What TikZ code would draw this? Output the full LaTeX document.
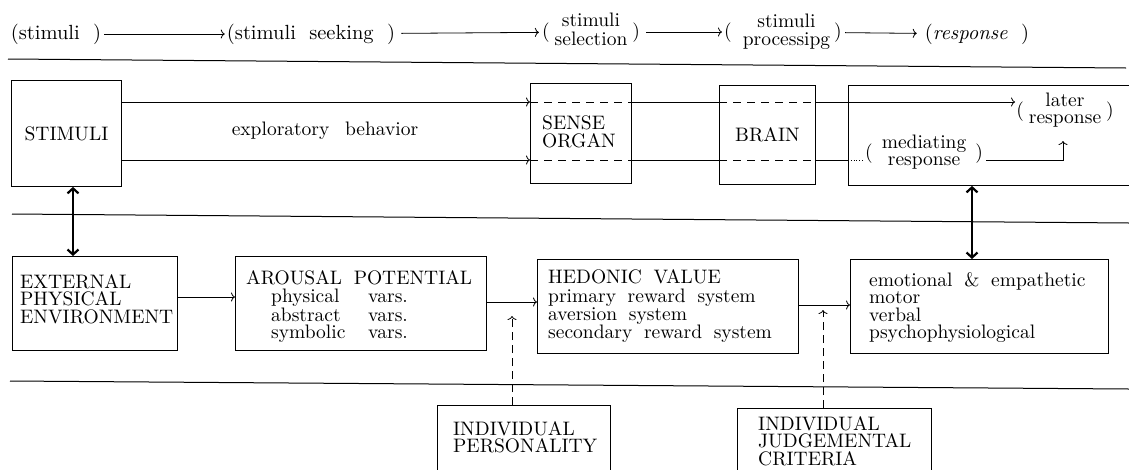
\documentclass[tikz,border=0pt]{standalone}
\usepackage{fontspec}
\setmainfont{lmroman10-regular.otf}[ItalicFont=lmroman10-italic.otf, BoldFont=lmroman10-bold.otf]
\usetikzlibrary{arrows.meta}
\newcommand\fs{\fontsize{19.5}{17.5}\selectfont\spaceskip=0.6em plus 0.1em minus 0.05em\relax}
\newcommand\fst{\fontsize{20.5}{17.5}\selectfont\spaceskip=0.65em plus 0.1em minus 0.05em\relax}
\begin{document}
\begin{tikzpicture}[x=1pt,y=-1pt,
  every node/.style={inner sep=0pt},
  lbl/.style={font=\fs, align=center},
  top/.style={font=\fst, align=center},
  txt/.style={font=\fs, align=left, anchor=north west},
  box/.style={draw, line width=0.9pt, anchor=north west, font=\fs},
  rule/.style={line width=1pt},
  conn/.style={line width=0.8pt, -{To[length=4pt,width=9pt]}},
  dconn/.style={conn, dash pattern=on 8pt off 5pt},
  dline/.style={line width=0.8pt, dash pattern=on 8pt off 6pt},
  pline/.style={line width=0.8pt},
  dbl/.style={line width=2.2pt, {Straight Barb[length=5pt,width=11pt]}-{Straight Barb[length=5pt,width=11pt]}}
]
\clip (0,0) rectangle (1129,469);
\fill[white] (0,0) rectangle (1129,469);

% ---------- top row ----------
\node[top] (t1) at (56,34) {(stimuli )};
\node[top] (t2) at (311,34) {(stimuli seeking )};
\node[lbl] (t3) at (591,32) {(\hspace{5pt}\begin{tabular}[c]{@{}c@{}}stimuli\\selection\end{tabular}\hspace{5pt})};
\node[lbl] (t4) at (783,32) {(\hspace{11pt}\begin{tabular}[c]{@{}c@{}}stimuli\\processipg\end{tabular}\hspace{4pt})};
\node[top] (t5) at (977,34) {(\textit{response} )};
\draw[conn, shorten <=3pt, shorten >=2pt] (t1) -- (t2);
\draw[conn, shorten <=6pt, shorten >=3pt] (t2) -- (t3);
\draw[conn, shorten <=6pt, shorten >=2pt] (t3) -- (t4);
\draw[conn, shorten <=3pt, shorten >=8pt] (t4) -- (t5);

% ---------- rules ----------
\coordinate (r1a) at (8,59);   \coordinate (r1b) at (1126,68);
\coordinate (r2a) at (12,214); \coordinate (r2b) at (1129,223);
\coordinate (r3a) at (10,381); \coordinate (r3b) at (1129,389);
\draw[rule] (r1a) -- (r1b);
\draw[rule] (r2a) -- (r2b);
\draw[rule] (r3a) -- (r3b);

% ---------- upper band ----------
\node[box, minimum width=110, minimum height=106] (stim) at (11,80) {STIMULI};
\node[box, minimum width=101, minimum height=100] (sense) at (530,83) {};
\node[txt] (senseT) at (542,116) {SENSE\\ORGAN};
\node[box, minimum width=96, minimum height=99] (brain) at (719,85) {BRAIN};
\node[box, minimum width=290, minimum height=100] (resp) at (848,85) {};
\node[lbl] (later) at (1065,111) {(\hspace{5pt}\begin{tabular}[c]{@{}c@{}}later\\response\end{tabular}\hspace{5pt})};
\node[lbl] (med) at (924,153) {(\hspace{9pt}\begin{tabular}[c]{@{}c@{}}mediating\\response\end{tabular}\hspace{9pt})};
\node[lbl] (expl) at (325,131) {exploratory\hspace{0.8em}behavior};

\coordinate (uy) at (0,102);
\coordinate (ly) at (0,160);
\draw[conn] (stim.east |- uy) -- (sense.west |- uy);
\draw[dline] (sense.west |- uy) -- (sense.east |- uy);
\draw[pline] (sense.east |- uy) -- (brain.west |- uy);
\draw[dline] (brain.west |- uy) -- (brain.east |- uy);
\draw[conn, shorten >=1pt] (brain.east |- uy) -- (later.west |- uy);

\draw[conn] (stim.east |- ly) -- (sense.west |- ly);
\draw[dline] (sense.west |- ly) -- (sense.east |- ly);
\draw[pline] (sense.east |- ly) -- (brain.west |- ly);
\draw[dline] (brain.west |- ly) -- (brain.east |- ly);
\draw[pline] (brain.east |- ly) -- (resp.west |- ly);
\draw[pline, dotted, shorten >=2pt] (resp.west |- ly) -- (med.west |- ly);
\coordinate (upx) at (1063,141);
\draw[conn, shorten <=3pt] (med.east |- ly) -| (upx);

% ---------- lower band ----------
\node[box, minimum width=165, minimum height=94] (ext) at (12,256) {};
\node[txt] (extT) at (20,274) {EXTERNAL\\PHYSICAL\\ENVIRONMENT};
\node[box, minimum width=251, minimum height=94] (arousal) at (235,256) {};
\node[txt] (arousalT) at (246,270) {AROUSAL POTENTIAL\\[1pt]
   \hspace*{25pt}\makebox[97pt][l]{physical}vars.\\
   \hspace*{25pt}\makebox[97pt][l]{abstract}vars.\\
   \hspace*{25pt}\makebox[97pt][l]{symbolic}vars.};
\node[box, minimum width=261, minimum height=94] (hedonic) at (537,259) {};
\node[txt] (hedonicT) at (548,269) {HEDONIC VALUE\\[2pt]
   primary reward system\\
   aversion system\\
   secondary reward system};
\node[box, minimum width=258, minimum height=94] (emo) at (850,259) {};
\node[txt] (emoT) at (869,272) {emotional \& empathetic\\motor\\verbal\\psychophysiological};

\draw[conn] (ext.east |- 0,297) -- (arousal.west |- 0,297);
\draw[conn] (arousal.east |- 0,302) -- (hedonic.west |- 0,302);
\draw[conn] (hedonic.east |- 0,305) -- (emo.west |- 0,305);

\coordinate (d1) at (73,0);
\coordinate (d2) at (972,0);
\draw[dbl] (stim.south -| d1) -- (ext.north -| d1);
\draw[dbl] (resp.south -| d2) -- (emo.north -| d2);

% ---------- bottom band ----------
\node[box, minimum width=173, minimum height=100] (pers) at (437,405) {};
\node[txt] (persT) at (453,421) {INDIVIDUAL\\PERSONALITY};
\node[box, minimum width=194, minimum height=100] (judg) at (737,408) {};
\node[txt] (judgT) at (758,416) {INDIVIDUAL\\JUDGEMENTAL\\CRITERIA};

\coordinate (p1) at (512,316);
\coordinate (p2) at (823,310);
\draw[dconn] (pers.north -| p1) -- (p1);
\draw[dconn] (judg.north -| p2) -- (p2);
\end{tikzpicture}
\end{document}
